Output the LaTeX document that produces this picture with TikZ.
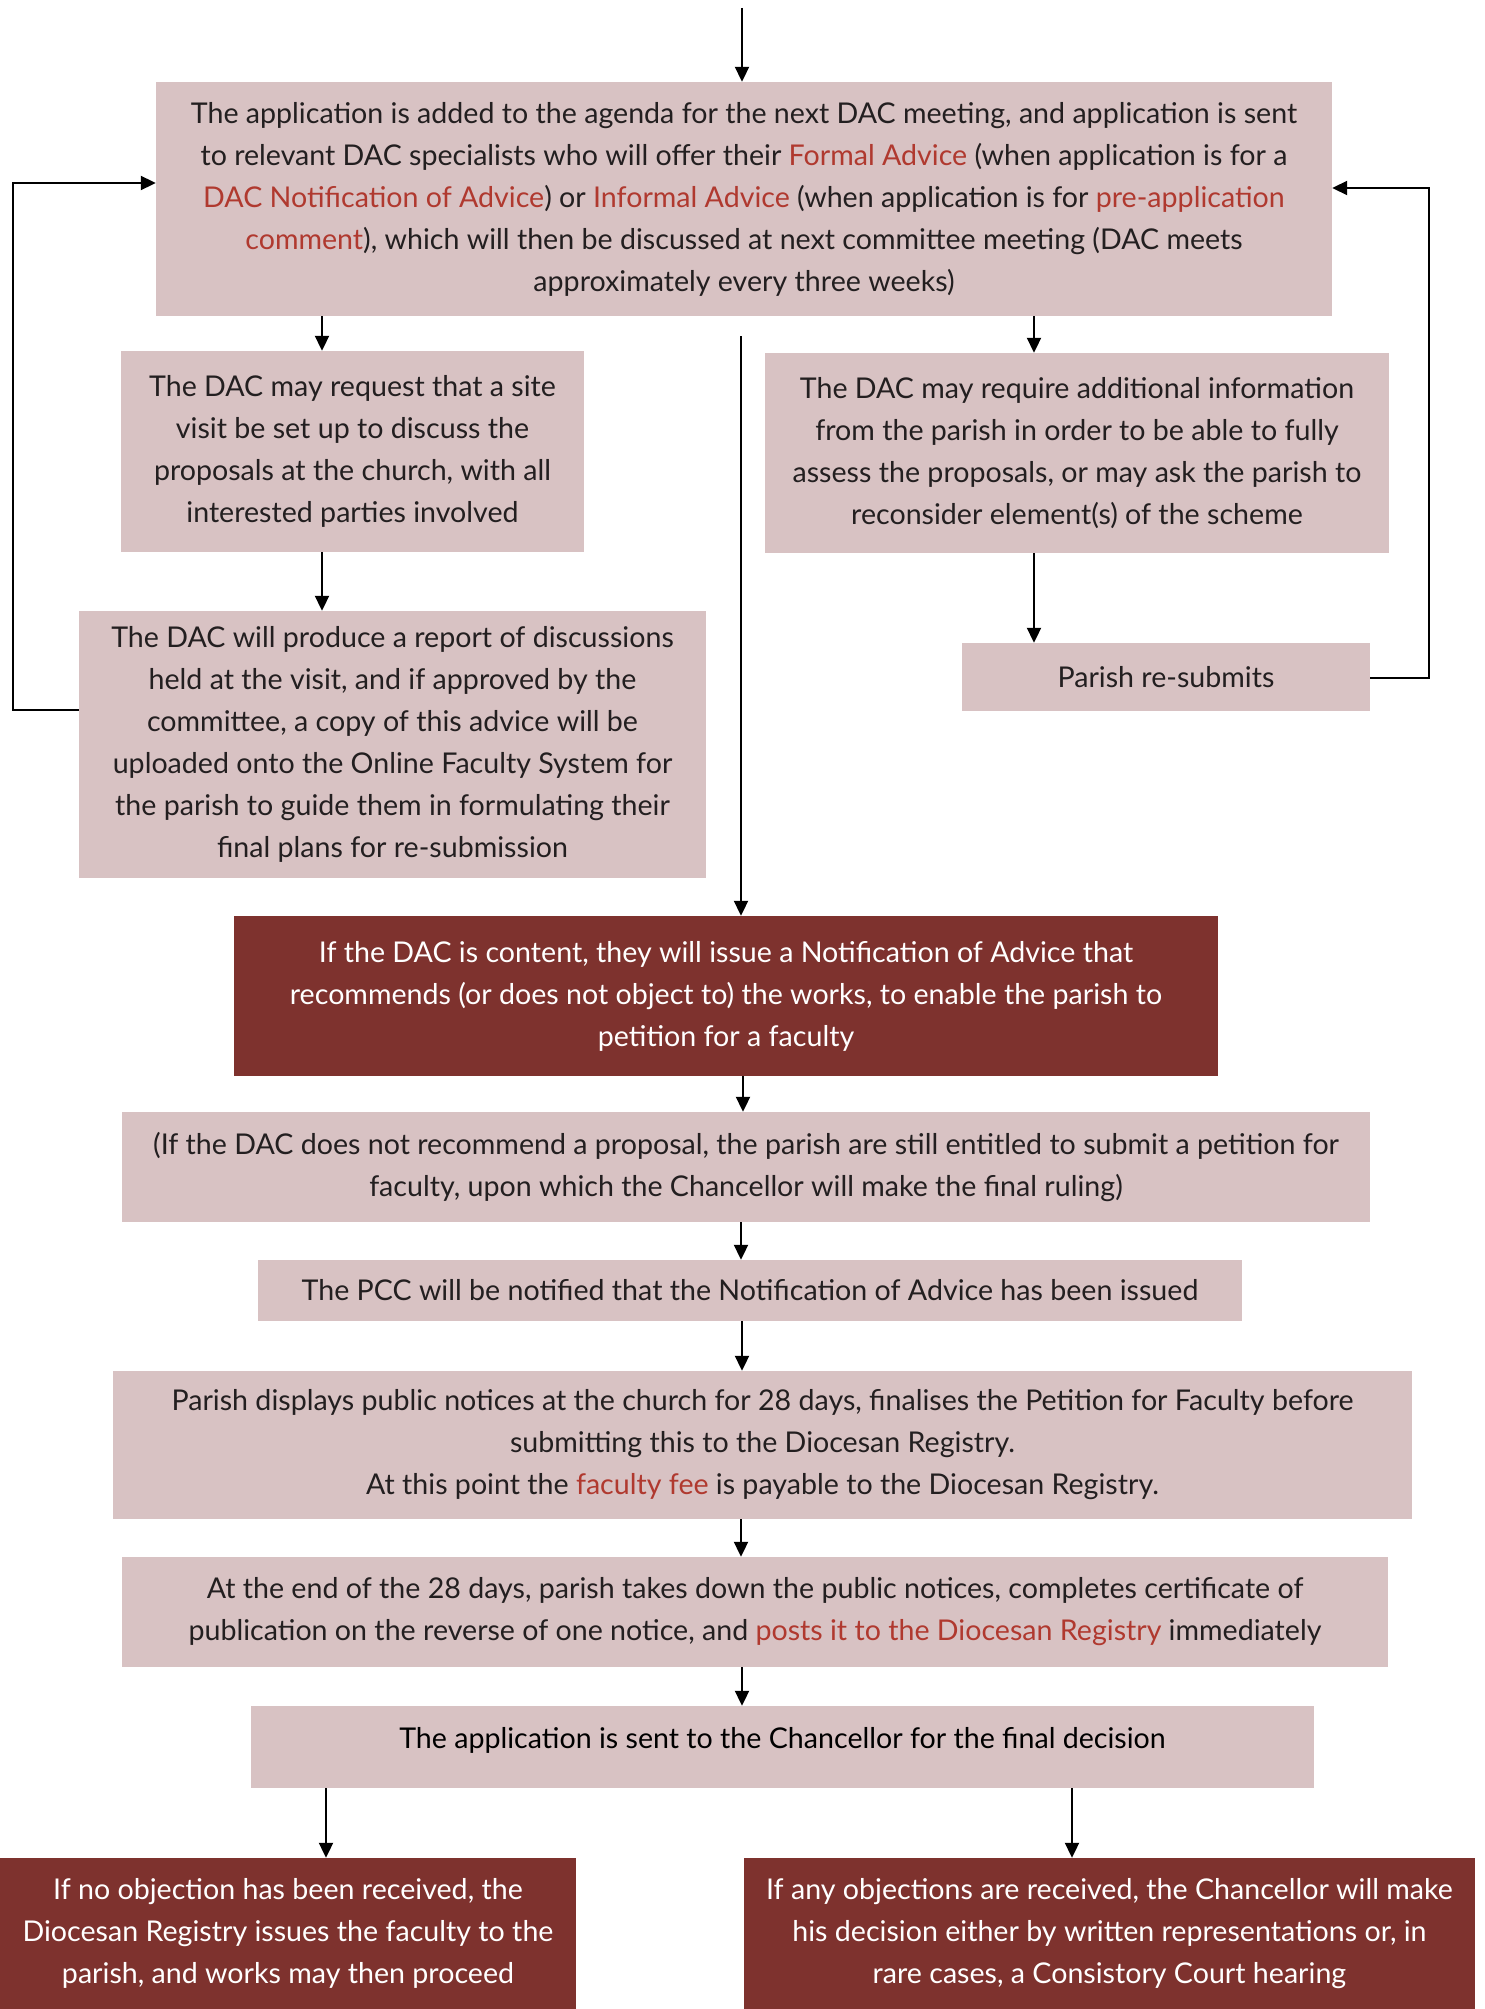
\documentclass[tikz,border=0pt]{standalone}
\usepackage{fontspec}
\setmainfont{Lato}
\usetikzlibrary{arrows.meta}
\definecolor{pinkbox}{HTML}{D8C2C3}
\definecolor{darkbox}{HTML}{7E322E}
\definecolor{redtxt}{HTML}{B0392F}
\definecolor{txt}{HTML}{231F20}
\newcommand{\hl}[1]{\textcolor{redtxt}{#1}}
\begin{document}
\begin{tikzpicture}[x=1pt,y=1pt,
  every node/.style={font=\fontsize{28.6}{42}\selectfont, align=center, inner sep=0pt},
  pbox/.style={fill=pinkbox, text=txt},
  dbox/.style={fill=darkbox, text=white},
  arr/.style={line width=2pt, -{Triangle[length=15pt,width=14pt]}},
  ln/.style={line width=2pt}]
\useasboundingbox (0,0) rectangle (1484,-2009);

\node[pbox, minimum width=1176pt, minimum height=234pt] (b1) at (744,-199) {The application is added to the agenda for the next DAC meeting, and application is sent\\to relevant DAC specialists who will offer their \hl{Formal Advice} (when application is for a\\\hl{DAC Notification of Advice}) or \hl{Informal Advice} (when application is for \hl{pre-application}\\\hl{comment}), which will then be discussed at next committee meeting (DAC meets\\approximately every three weeks)};

\node[pbox, minimum width=463pt, minimum height=201pt] (b2) at (352.5,-451.5) {The DAC may request that a site\\visit be set up to discuss the\\proposals at the church, with all\\interested parties involved};

\node[pbox, minimum width=624pt, minimum height=200pt] (b3) at (1077,-453) {The DAC may require additional information\\from the parish in order to be able to fully\\assess the proposals, or may ask the parish to\\reconsider element(s) of the scheme};

\node[pbox, minimum width=627pt, minimum height=267pt] (b4) at (392.5,-744.5) {The DAC will produce a report of discussions\\held at the visit, and if approved by the\\committee, a copy of this advice will be\\uploaded onto the Online Faculty System for\\the parish to guide them in formulating their\\final plans for re-submission};

\node[pbox, minimum width=408pt, minimum height=68pt] (b5) at (1166,-677) {Parish re-submits};

\node[dbox, minimum width=984pt, minimum height=160pt] (b6) at (726,-996) {If the DAC is content, they will issue a Notification of Advice that\\recommends (or does not object to) the works, to enable the parish to\\petition for a faculty};

\node[pbox, minimum width=1248pt, minimum height=110pt] (b7) at (746,-1167) {(If the DAC does not recommend a proposal, the parish are still entitled to submit a petition for\\faculty, upon which the Chancellor will make the final ruling)};

\node[pbox, minimum width=984pt, minimum height=61pt] (b8) at (750,-1290.5) {The PCC will be notified that the Notification of Advice has been issued};

\node[pbox, minimum width=1299pt, minimum height=148pt] (b9) at (762.5,-1445) {Parish displays public notices at the church for 28 days, finalises the Petition for Faculty before\\submitting this to the Diocesan Registry.\\At this point the \hl{faculty fee} is payable to the Diocesan Registry.};

\node[pbox, minimum width=1266pt, minimum height=110pt] (b10) at (755,-1612) {At the end of the 28 days, parish takes down the public notices, completes certificate of\\publication on the reverse of one notice, and \hl{posts it to the Diocesan Registry} immediately};

\node[pbox, minimum width=1063pt, minimum height=82pt] (b11) at (782.5,-1747) {};
\node (b11t) at (782.5,-1740) {The application is sent to the Chancellor for the final decision};

\node[dbox, minimum width=576pt, minimum height=151pt] (b12) at (288,-1933.5) {If no objection has been received, the\\Diocesan Registry issues the faculty to the\\parish, and works may then proceed};

\node[dbox, minimum width=731pt, minimum height=151pt] (b13) at (1109.5,-1933.5) {If any objections are received, the Chancellor will make\\his decision either by written representations or, in\\rare cases, a Consistory Court hearing};

% coordinates for connector x positions
\coordinate (top) at (742,-8);
\coordinate (xl) at (322,0);
\coordinate (xr) at (1034,0);
\coordinate (m) at (741,-336);
\coordinate (xc) at (742,0);
\coordinate (xa) at (743,0);
\coordinate (xb) at (741,0);
\coordinate (xll) at (326,0);
\coordinate (xrr) at (1072,0);
\coordinate (lb) at (13,-710);
\coordinate (lt) at (13,-183);
\coordinate (rb) at (1429,-678);
\coordinate (rt) at (1429,-188);

\draw[arr] (top) -- (b1.north -| top);
\draw[arr] (b1.south -| xl) -- (b2.north -| xl);
\draw[arr] (b1.south -| xr) -- (b3.north -| xr);
\draw[arr] (b2.south -| xl) -- (b4.north -| xl);
\draw[arr] (b3.south -| xr) -- (b5.north -| xr);
\draw[arr] (m) -- (b6.north -| m);
\draw[arr] (b4.west |- lb) -- (lb) -- (lt) -- (b1.west |- lt);
\draw[arr] (b5.east |- rb) -- (rb) -- (rt) -- (b1.east |- rt);
\draw[arr] (b6.south -| xa) -- (b7.north -| xa);
\draw[arr] (b7.south -| xb) -- (b8.north -| xb);
\draw[arr] (b8.south -| xc) -- (b9.north -| xc);
\draw[arr] (b9.south -| xb) -- (b10.north -| xb);
\draw[arr] (b10.south -| xc) -- (b11.north -| xc);
\draw[arr] (b11.south -| xll) -- (b12.north -| xll);
\draw[arr] (b11.south -| xrr) -- (b13.north -| xrr);
\end{tikzpicture}
\end{document}
